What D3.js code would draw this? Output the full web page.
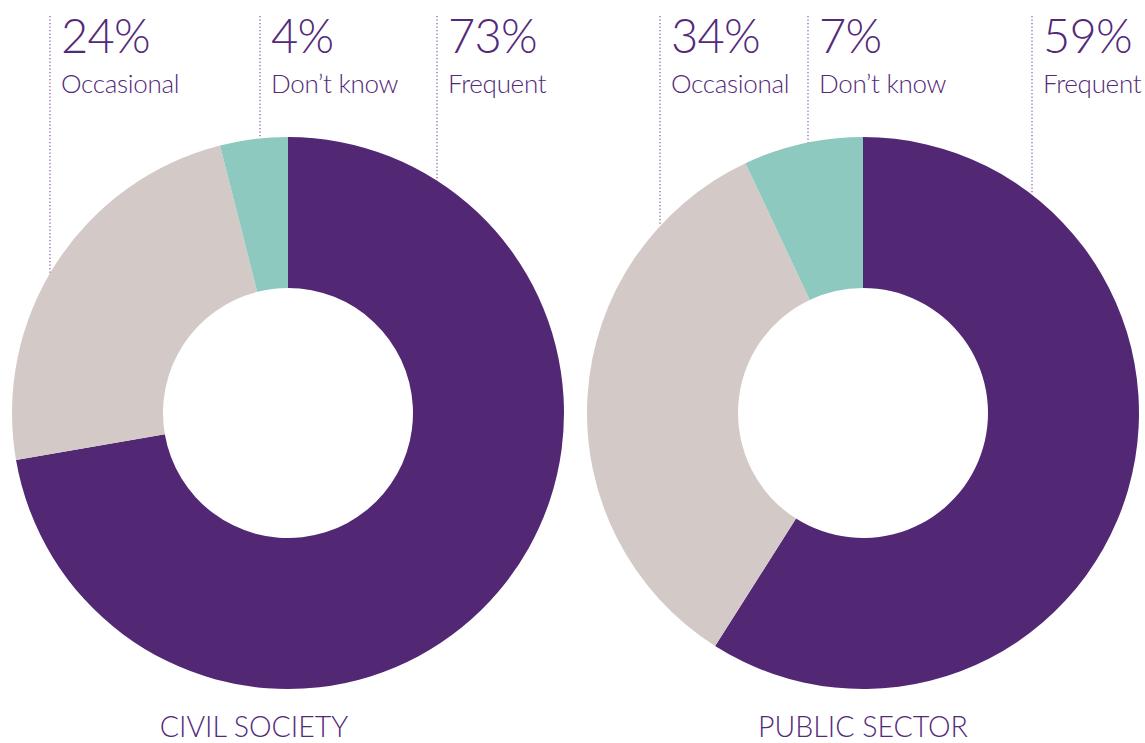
<!DOCTYPE html>
<html>
<head>
<meta charset="utf-8">
<script src="https://cdn.jsdelivr.net/npm/d3@7"></script>
<style>
  html, body { margin: 0; padding: 0; background: #ffffff; }
  svg { display: block; }
  text { font-family: Lato, "Open Sans", sans-serif; fill: #53297a; }
</style>
</head>
<body>
<svg id="chart" width="1145" height="743"></svg>
<script>
// Response categories, in drawing order (clockwise from 12 o'clock)
const categories = ["Frequent", "Occasional", "Don’t know"];
const groups = ["CIVIL SOCIETY", "PUBLIC SECTOR"];
const civilSociety = [73, 24, 4];
const publicSector = [59, 34, 7];
// Order in which the callout labels run left to right
const labelOrder = ["Occasional", "Don’t know", "Frequent"];

const colors = d3.scaleOrdinal()
  .domain(categories)
  .range(["#522874", "#d3cac7", "#8dc9bf"]);

const svg = d3.select("#chart");
const outerR = 276, innerR = 125;

const panels = [
  { name: groups[0], values: civilSociety, cx: 288, cy: 413, titleX: 254, callX: [50, 260, 437] },
  { name: groups[1], values: publicSector, cx: 863, cy: 413, titleX: 863, callX: [660, 808, 1032] }
];

const pie = d3.pie().sort(null).value(d => d.value);
const arc = d3.arc().innerRadius(innerR).outerRadius(outerR);

panels.forEach(p => {
  const data = categories.map((c, i) => ({ cat: c, value: p.values[i] }));
  const g = svg.append("g").attr("transform", `translate(${p.cx},${p.cy})`);
  g.selectAll("path")
    .data(pie(data))
    .join("path")
    .attr("d", arc)
    .attr("fill", d => colors(d.data.cat));

  // Callouts: dotted leader from the top down to the ring's outer edge
  labelOrder.forEach((cat, i) => {
    const x = p.callX[i];
    const dx = x - p.cx;
    const yEnd = p.cy - Math.sqrt(Math.max(0, outerR * outerR - dx * dx));
    svg.append("line")
      .attr("x1", x).attr("x2", x)
      .attr("y1", 16).attr("y2", yEnd)
      .attr("stroke", "#8a62ad")
      .attr("stroke-width", 1.3)
      .attr("stroke-dasharray", "1.3,2.2");
    const v = p.values[categories.indexOf(cat)];
    svg.append("text")
      .attr("x", x + 11).attr("y", 53)
      .attr("font-size", 47)
      .attr("font-weight", 300)
      .attr("letter-spacing", -0.8)
      .text(v + "%");
    svg.append("text")
      .attr("x", x + 11).attr("y", 93)
      .attr("font-size", 26)
      .attr("font-weight", 300)
      .attr("letter-spacing", -0.3)
      .text(cat);
  });

  svg.append("text")
    .attr("x", p.titleX).attr("y", 737)
    .attr("text-anchor", "middle")
    .attr("font-size", 28.5)
    .attr("font-weight", 300)
    .text(p.name);
});
</script>
</body>
</html>
